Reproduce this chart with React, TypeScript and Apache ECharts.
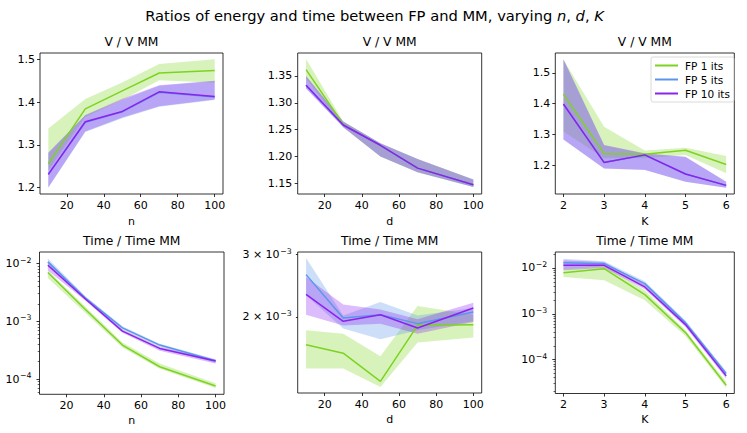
import React, { useEffect, useRef } from 'react';
import * as echarts from 'echarts';

// ---------- data ----------
const nValues = [10, 30, 50, 70, 100];
const dValues = [10, 30, 50, 70, 100];
const kValues = [2, 3, 4, 5, 6];
const nTickLabels = [20, 40, 60, 80, 100];
const dTickLabels = [20, 40, 60, 80, 100];
const kTickLabels = [2, 3, 4, 5, 6];
const seriesNames = ['FP 1 its', 'FP 5 its', 'FP 10 its'];

// V / V MM vs n
const volN1Mean = [1.256, 1.384, 1.426, 1.468, 1.474];
const volN1Lo = [1.24, 1.365, 1.405, 1.451, 1.445];
const volN1Hi = [1.338, 1.407, 1.446, 1.489, 1.5];
const volN5Mean = [1.231, 1.353, 1.377, 1.423, 1.412];
const volN5Lo = [1.2, 1.33, 1.362, 1.389, 1.405];
const volN5Hi = [1.28, 1.369, 1.405, 1.438, 1.449];
const volN10Mean = [1.231, 1.354, 1.378, 1.424, 1.413];
const volN10Lo = [1.2, 1.331, 1.364, 1.39, 1.406];
const volN10Hi = [1.282, 1.37, 1.408, 1.439, 1.45];

// V / V MM vs d
const volD1Mean = [1.3617, 1.26, 1.221, 1.1785, 1.1476];
const volD1Lo = [1.345, 1.2544, 1.2, 1.171, 1.1433];
const volD1Hi = [1.3815, 1.265, 1.2247, 1.1957, 1.1575];
const volD5Mean = [1.3327, 1.2587, 1.221, 1.1785, 1.1476];
const volD5Lo = [1.3266, 1.2544, 1.2, 1.171, 1.1433];
const volD5Hi = [1.35, 1.265, 1.2247, 1.1957, 1.1575];
const volD10Mean = [1.3327, 1.2587, 1.221, 1.1785, 1.1476];
const volD10Lo = [1.3266, 1.2544, 1.2, 1.171, 1.1433];
const volD10Hi = [1.35, 1.265, 1.2247, 1.1957, 1.1575];

// V / V MM vs K
const volK1Mean = [1.431, 1.238, 1.236, 1.249, 1.203];
const volK1Lo = [1.31, 1.223, 1.223, 1.234, 1.174];
const volK1Hi = [1.543, 1.325, 1.248, 1.257, 1.23];
const volK5Mean = [1.398, 1.21, 1.233, 1.172, 1.135];
const volK5Lo = [1.284, 1.19, 1.186, 1.147, 1.127];
const volK5Hi = [1.544, 1.265, 1.238, 1.227, 1.147];
const volK10Mean = [1.399, 1.209, 1.234, 1.172, 1.135];
const volK10Lo = [1.284, 1.19, 1.185, 1.147, 1.127];
const volK10Hi = [1.545, 1.266, 1.239, 1.228, 1.147];

// Time / Time MM vs n
const timeN1Mean = [7.0e-3, 1.62e-3, 3.87e-4, 1.63e-4, 7.57e-5];
const timeN1Lo = [5.6e-3, 1.4e-3, 3.5e-4, 1.5e-4, 7.0e-5];
const timeN1Hi = [7.6e-3, 1.8e-3, 4.3e-4, 1.85e-4, 8.4e-5];
const timeN5Mean = [1.07e-2, 2.55e-3, 7.7e-4, 3.87e-4, 2.07e-4];
const timeN5Lo = [9.0e-3, 2.35e-3, 7.2e-4, 3.6e-4, 1.9e-4];
const timeN5Hi = [1.22e-2, 2.75e-3, 8.2e-4, 4.1e-4, 2.2e-4];
const timeN10Mean = [9.36e-3, 2.45e-3, 6.76e-4, 3.39e-4, 2.05e-4];
const timeN10Lo = [7.6e-3, 2.3e-3, 6.3e-4, 3.1e-4, 1.85e-4];
const timeN10Hi = [1.04e-2, 2.6e-3, 7.2e-4, 3.6e-4, 2.15e-4];

// Time / Time MM vs d
const timeD1Mean = [1.67e-3, 1.58e-3, 1.316e-3, 1.894e-3, 1.902e-3];
const timeD1Lo = [1.43e-3, 1.43e-3, 1.269e-3, 1.693e-3, 1.75e-3];
const timeD1Hi = [1.834e-3, 1.794e-3, 1.55e-3, 2.147e-3, 2.03e-3];
const timeD5Mean = [2.634e-3, 1.987e-3, 2.03e-3, 1.915e-3, 2.066e-3];
const timeD5Lo = [2.302e-3, 1.855e-3, 1.73e-3, 1.834e-3, 1.945e-3];
const timeD5Hi = [2.936e-3, 2.02e-3, 2.205e-3, 2.02e-3, 2.12e-3];
const timeD10Mean = [2.317e-3, 1.944e-3, 2.03e-3, 1.862e-3, 2.12e-3];
const timeD10Lo = [2.03e-3, 1.893e-3, 1.915e-3, 1.794e-3, 1.936e-3];
const timeD10Hi = [2.595e-3, 2.17e-3, 2.1e-3, 1.97e-3, 2.195e-3];

// Time / Time MM vs K
const timeK1Mean = [7.9e-3, 9.67e-3, 2.62e-3, 3.88e-4, 2.75e-5];
const timeK1Lo = [6.37e-3, 5.38e-3, 1.97e-3, 3.28e-4, 2.41e-5];
const timeK1Hi = [9.67e-3, 1.14e-2, 3.26e-3, 4.37e-4, 3.26e-5];
const timeK5Mean = [1.3e-2, 1.24e-2, 4.55e-3, 6.4e-4, 4.95e-5];
const timeK5Lo = [9.67e-3, 1.1e-2, 4.05e-3, 5.61e-4, 4.4e-5];
const timeK5Hi = [1.6e-2, 1.4e-2, 5.12e-3, 7.1e-4, 5.56e-5];
const timeK10Mean = [1.14e-2, 1.14e-2, 3.85e-3, 5.8e-4, 4.4e-5];
const timeK10Lo = [8.89e-3, 1.0e-2, 3.43e-3, 5.16e-4, 3.85e-5];
const timeK10Hi = [1.47e-2, 1.35e-2, 4.33e-3, 6.41e-4, 4.95e-5];

// axis ticks
const volNTicks = [1.2, 1.3, 1.4, 1.5];
const volDTicks = [1.15, 1.2, 1.25, 1.3, 1.35];
const volKTicks = [1.2, 1.3, 1.4, 1.5];
const timeNExponents = [-4, -3, -2];
const timeKExponents = [-4, -3, -2];
const timeDTicks = [2e-3, 3e-3];
const timeDMantissas = ['2', '3'];
const timeDExponent = -3;
const minorMantissas = [2, 3, 4, 5, 6, 7, 8, 9];

// ---------- style ----------
const FONT = '"DejaVu Sans", "Liberation Sans", sans-serif';
const COLORS = ['#7dd321', '#5b96e8', '#8b22ee'];
const BAND_ALPHA = 0.3;
const TICK_FONT = 11;

function rgba(hex: string, a: number) {
  const r = parseInt(hex.slice(1, 3), 16);
  const g = parseInt(hex.slice(3, 5), 16);
  const b = parseInt(hex.slice(5, 7), 16);
  return `rgba(${r},${g},${b},${a})`;
}

const expText = (e: number) => String(e).replace('-', '−');
const pow10Rich = (e: number) => `{b|10}{s|${expText(e)}}`;
const mantRich = (m: string, e: number) => `{b|${m} × 10}{s|${expText(e)}}`;

const supRich = {
  b: { fontSize: TICK_FONT, fontFamily: FONT, color: '#000', lineHeight: 15 },
  s: { fontSize: 7.8, fontFamily: FONT, color: '#000', verticalAlign: 'top', lineHeight: 9, padding: [0, 0, 0, 0.6] },
};

function minorLogTicks(lo: number, hi: number) {
  const out: number[] = [];
  for (let e = Math.floor(lo) - 1; e <= Math.ceil(hi); e++) {
    for (const m of minorMantissas) {
      const v = Math.log10(m) + e;
      if (v > lo && v < hi) out.push(v);
    }
  }
  return out;
}

type Line = { mean: number[]; lo: number[]; hi: number[] };

type Panel = {
  grid: { left: number; top: number; width: number; height: number };
  title: string;
  xs: number[];
  xMin: number;
  xMax: number;
  xTicks: number[];
  xName: string;
  nameGap: number;
  log: boolean;
  yMin: number;
  yMax: number;
  yTicks: number[];
  yLabels: string[];
  yMajorLen: number;
  yMargin: number;
  minor: boolean;
  lines: Line[];
};

const panels: Panel[] = [
  {
    grid: { left: 40, top: 53, width: 183, height: 141 },
    title: 'V / V MM', xs: nValues, xMin: 5.5, xMax: 104.5, xTicks: nTickLabels, xName: 'n', nameGap: 21.5,
    log: false, yMin: 1.185, yMax: 1.5147, yTicks: volNTicks, yLabels: volNTicks.map((v) => v.toFixed(1)),
    yMajorLen: 3, yMargin: 5, minor: false,
    lines: [
      { mean: volN1Mean, lo: volN1Lo, hi: volN1Hi },
      { mean: volN5Mean, lo: volN5Lo, hi: volN5Hi },
      { mean: volN10Mean, lo: volN10Lo, hi: volN10Hi },
    ],
  },
  {
    grid: { left: 297.7, top: 53, width: 184, height: 141 },
    title: 'V / V MM', xs: dValues, xMin: 5.5, xMax: 104.5, xTicks: dTickLabels, xName: 'd', nameGap: 21.5,
    log: false, yMin: 1.1304, yMax: 1.3926, yTicks: volDTicks, yLabels: volDTicks.map((v) => v.toFixed(2)),
    yMajorLen: 3, yMargin: 5.5, minor: false,
    lines: [
      { mean: volD1Mean, lo: volD1Lo, hi: volD1Hi },
      { mean: volD5Mean, lo: volD5Lo, hi: volD5Hi },
      { mean: volD10Mean, lo: volD10Lo, hi: volD10Hi },
    ],
  },
  {
    grid: { left: 555.3, top: 53, width: 179, height: 141 },
    title: 'V / V MM', xs: kValues, xMin: 1.8, xMax: 6.2, xTicks: kTickLabels, xName: 'K', nameGap: 21.5,
    log: false, yMin: 1.107, yMax: 1.5647, yTicks: volKTicks, yLabels: volKTicks.map((v) => v.toFixed(1)),
    yMajorLen: 3, yMargin: 5, minor: false,
    lines: [
      { mean: volK1Mean, lo: volK1Lo, hi: volK1Hi },
      { mean: volK5Mean, lo: volK5Lo, hi: volK5Hi },
      { mean: volK10Mean, lo: volK10Lo, hi: volK10Hi },
    ],
  },
  {
    grid: { left: 39.5, top: 252, width: 184.5, height: 142.3 },
    title: 'Time / Time MM', xs: nValues, xMin: 5.5, xMax: 104.5, xTicks: nTickLabels, xName: 'n', nameGap: 20.5,
    log: true, yMin: -4.265, yMax: -1.8, yTicks: timeNExponents, yLabels: timeNExponents.map(pow10Rich),
    yMajorLen: 3, yMargin: 8, minor: true,
    lines: [
      { mean: timeN1Mean, lo: timeN1Lo, hi: timeN1Hi },
      { mean: timeN5Mean, lo: timeN5Lo, hi: timeN5Hi },
      { mean: timeN10Mean, lo: timeN10Lo, hi: timeN10Hi },
    ],
  },
  {
    grid: { left: 297.7, top: 252, width: 184, height: 141 },
    title: 'Time / Time MM', xs: dValues, xMin: 5.5, xMax: 104.5, xTicks: dTickLabels, xName: 'd', nameGap: 20.5,
    log: true, yMin: -2.9137, yMax: -2.5155, yTicks: timeDTicks.map((v) => Math.log10(v)),
    yLabels: timeDMantissas.map((m) => mantRich(m, timeDExponent)),
    yMajorLen: 1.8, yMargin: 6, minor: false,
    lines: [
      { mean: timeD1Mean, lo: timeD1Lo, hi: timeD1Hi },
      { mean: timeD5Mean, lo: timeD5Lo, hi: timeD5Hi },
      { mean: timeD10Mean, lo: timeD10Lo, hi: timeD10Hi },
    ],
  },
  {
    grid: { left: 555.3, top: 252, width: 179, height: 141.5 },
    title: 'Time / Time MM', xs: kValues, xMin: 1.8, xMax: 6.2, xTicks: kTickLabels, xName: 'K', nameGap: 20.5,
    log: true, yMin: -4.742, yMax: -1.651, yTicks: timeKExponents, yLabels: timeKExponents.map(pow10Rich),
    yMajorLen: 3, yMargin: 8, minor: true,
    lines: [
      { mean: timeK1Mean, lo: timeK1Lo, hi: timeK1Hi },
      { mean: timeK5Mean, lo: timeK5Lo, hi: timeK5Hi },
      { mean: timeK10Mean, lo: timeK10Lo, hi: timeK10Hi },
    ],
  },
];

function buildOption() {
  const grids: any[] = [];
  const xAxes: any[] = [];
  const yAxes: any[] = [];
  const series: any[] = [];
  const graphics: any[] = [];
  const tickLine = { color: '#000', width: 0.8 };
  const labelStyle = { fontSize: TICK_FONT, color: '#000', fontFamily: FONT };

  panels.forEach((p, gi) => {
    grids.push({
      ...p.grid,
      show: true,
      borderColor: '#000',
      borderWidth: 0.8,
      backgroundColor: 'transparent',
      containLabel: false,
      outerBoundsMode: 'none',
    });
    xAxes.push({
      type: 'value',
      gridIndex: gi,
      min: p.xMin,
      max: p.xMax,
      name: p.xName,
      nameLocation: 'middle',
      nameGap: p.nameGap,
      nameTextStyle: { ...labelStyle },
      axisLine: { show: false },
      splitLine: { show: false },
      axisTick: { show: true, length: 3, customValues: p.xTicks, lineStyle: tickLine },
      axisLabel: { ...labelStyle, customValues: p.xTicks, margin: 5.5, formatter: (v: number) => String(v) },
    });
    const yIdx = yAxes.length;
    yAxes.push({
      type: 'value',
      gridIndex: gi,
      position: 'left',
      min: p.yMin,
      max: p.yMax,
      axisLine: { show: false },
      splitLine: { show: false },
      axisTick: { show: true, length: p.yMajorLen, customValues: p.yTicks, lineStyle: tickLine },
      axisLabel: {
        ...labelStyle,
        customValues: p.yTicks,
        margin: p.yMargin,
        rich: p.log ? supRich : undefined,
        formatter: (v: number) => {
          const i = p.yTicks.findIndex((t) => Math.abs(t - v) < 1e-6);
          return i >= 0 ? p.yLabels[i] : '';
        },
      },
    });
    if (p.minor) {
      yAxes.push({
        type: 'value',
        gridIndex: gi,
        position: 'left',
        offset: 0,
        min: p.yMin,
        max: p.yMax,
        axisLine: { show: false },
        splitLine: { show: false },
        axisLabel: { show: false },
        axisTick: { show: true, length: 1.8, customValues: minorLogTicks(p.yMin, p.yMax), lineStyle: { color: '#000', width: 0.6 } },
      });
    }
    const tf = p.log ? (v: number) => Math.log10(v) : (v: number) => v;
    p.lines.forEach((ln, si) => {
      const color = COLORS[si];
      const lo = ln.lo.map(tf);
      const hi = ln.hi.map(tf);
      const mean = ln.mean.map(tf);
      const xs = p.xs;
      series.push({
        type: 'custom',
        xAxisIndex: gi,
        yAxisIndex: yIdx,
        silent: true,
        data: xs.map((x, i) => [x, lo[i], hi[i]]),
        encode: { x: 0, y: [1, 2] },
        renderItem: (params: any, api: any) => {
          if (params.dataIndex !== 0) return null;
          const upper = xs.map((x, i) => api.coord([x, hi[i]]));
          const lower = xs.map((x, i) => api.coord([x, lo[i]])).reverse();
          return {
            type: 'polygon',
            shape: { points: upper.concat(lower) },
            style: { fill: rgba(color, BAND_ALPHA), stroke: 'none' },
          };
        },
      });
      series.push({
        type: 'line',
        name: seriesNames[si],
        xAxisIndex: gi,
        yAxisIndex: yIdx,
        data: xs.map((x, i) => [x, mean[i]]),
        showSymbol: false,
        symbol: 'none',
        silent: true,
        lineStyle: { width: 1.5, color },
        itemStyle: { color },
      });
    });
    graphics.push({
      type: 'text',
      x: p.grid.left + p.grid.width / 2,
      y: p.grid.top - 11.5,
      style: {
        text: p.title,
        fontSize: 12.3,
        fontFamily: FONT,
        fill: '#000',
        align: 'center',
        verticalAlign: 'middle',
      },
    });
  });

  graphics.push({
    type: 'text',
    x: 374.5,
    y: 15,
    style: {
      text: 'Ratios of energy and time between FP and MM, varying {i|n}, {i|d}, {i|K}',
      fontSize: 14.7,
      fontFamily: FONT,
      fill: '#000',
      align: 'center',
      verticalAlign: 'middle',
      rich: {
        i: { fontSize: 14.7, fontFamily: FONT, fontStyle: 'italic', fill: '#000' },
      },
    },
  });

  return {
    animation: false,
    backgroundColor: '#fff',
    grid: grids,
    xAxis: xAxes,
    yAxis: yAxes,
    series,
    graphic: graphics,
    legend: {
      data: seriesNames,
      orient: 'vertical',
      left: 651,
      top: 57,
      itemWidth: 23,
      itemHeight: 2,
      itemGap: 3,
      padding: [3, 4, 3, 4],
      icon: 'rect',
      borderColor: '#d0d0d0',
      borderWidth: 0.8,
      borderRadius: 2,
      backgroundColor: 'rgba(255,255,255,0.8)',
      selectedMode: false,
      textStyle: { fontSize: 10.5, color: '#000', fontFamily: FONT, padding: [0, 0, 0, 2] },
    },
  };
}

export default function App() {
  const ref = useRef<HTMLDivElement>(null);
  useEffect(() => {
    if (!ref.current) return;
    const chart = echarts.init(ref.current, undefined, { renderer: 'svg' });
    chart.setOption(buildOption() as any);
    return () => chart.dispose();
  }, []);
  return (
    <div
      ref={ref}
      style={{ position: 'fixed', left: 0, top: 0, width: 747, height: 433, background: '#fff' }}
    />
  );
}
